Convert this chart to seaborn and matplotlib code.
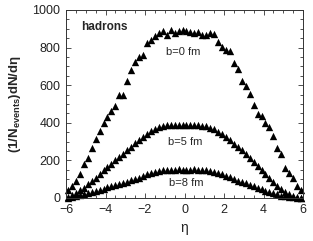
import numpy as np
import pandas as pd
import matplotlib
matplotlib.use("Agg")
import matplotlib.pyplot as plt
import seaborn as sns
from matplotlib.ticker import MultipleLocator

eta = [round(-5.9 + 0.2 * i, 1) for i in range(60)]

b0 = [45, 62, 88, 128, 180, 212, 268, 312, 358, 398,
      430, 462, 488, 548, 550, 622, 680, 724, 752, 760,
      822, 840, 860, 880, 888, 868, 893, 876, 890, 893,
      888, 881, 876, 885, 867, 867, 876, 872, 828, 805,
      787, 784, 720, 684, 622, 596, 551, 493, 448, 436,
      398, 378, 330, 266, 232, 158, 131, 104, 64, 42]

b5 = [5, 14, 26, 40, 54, 72, 90, 108, 128, 150,
      165, 182, 200, 218, 236, 256, 272, 290, 308, 324,
      340, 354, 366, 377, 383, 386, 389, 387, 389, 386,
      388, 387, 389, 386, 384, 381, 374, 365, 352, 340,
      324, 308, 288, 270, 254, 236, 214, 194, 172, 150,
      128, 107, 86, 66, 48, 33, 20, 10, 4, 1]

b8 = [2, 5, 9, 14, 20, 26, 32, 38, 44, 50,
      56, 62, 68, 74, 80, 86, 94, 101, 109, 118,
      126, 134, 140, 145, 148, 150, 151, 150, 152, 151,
      151, 150, 152, 150, 149, 148, 145, 140, 133, 126,
      118, 110, 102, 93, 86, 78, 70, 62, 54, 46,
      39, 32, 25, 19, 13, 9, 5, 3, 1, 0]

labels = ["b=0 fm", "b=5 fm", "b=8 fm"]
label_pos_x = [-0.08, 0.03, 0.11]
label_pos_y = [777, 300, 81]

df = pd.DataFrame({
    "eta": eta * 3,
    "dndeta": b0 + b5 + b8,
    "b": [labels[0]] * 60 + [labels[1]] * 60 + [labels[2]] * 60,
})

sns.set_theme(style="ticks")
plt.rcParams["font.family"] = ["Liberation Sans", "DejaVu Sans"]
plt.rcParams["mathtext.fontset"] = "custom"
plt.rcParams["mathtext.rm"] = "Liberation Sans"
plt.rcParams["mathtext.bf"] = "Liberation Sans:bold"

fig = plt.figure(figsize=(3.13, 2.41), dpi=100)
fig.patch.set_facecolor("white")
ax = fig.add_axes([66 / 313, 1 - 198 / 241, 237 / 313, 188 / 241])
ax.set_facecolor("white")

sns.scatterplot(data=df, x="eta", y="dndeta", marker="^", color="black",
                s=28, linewidth=0, ax=ax, legend=False, clip_on=False)

ax.set_xlim(-6, 6)
ax.set_ylim(0, 1000)
ax.xaxis.set_major_locator(MultipleLocator(2))
ax.xaxis.set_minor_locator(MultipleLocator(0.5))
ax.yaxis.set_major_locator(MultipleLocator(200))
ax.yaxis.set_minor_locator(MultipleLocator(50))
ax.tick_params(which="both", direction="in", top=True, right=True,
               labelsize=9, width=0.6, color="#333333", labelcolor="#222222")
ax.tick_params(which="major", length=3.5, pad=4)
ax.tick_params(which="minor", length=2)
for sp in ax.spines.values():
    sp.set_linewidth(0.7)
    sp.set_color("#333333")

ax.set_xlabel("η", fontsize=10, labelpad=4)
ax.set_ylabel(r"(1/N$_{\mathbf{events}}$)dN/dη", fontsize=9.5,
              fontweight="bold", labelpad=7)

ax.text(-5.25, 910, "hadrons", fontsize=8.5, fontweight="bold",
        ha="left", va="center")
for t, x, y in zip(labels, label_pos_x, label_pos_y):
    ax.text(x, y, t, fontsize=8, ha="center", va="center")

fig.savefig("out.png", dpi=100, facecolor="white")
